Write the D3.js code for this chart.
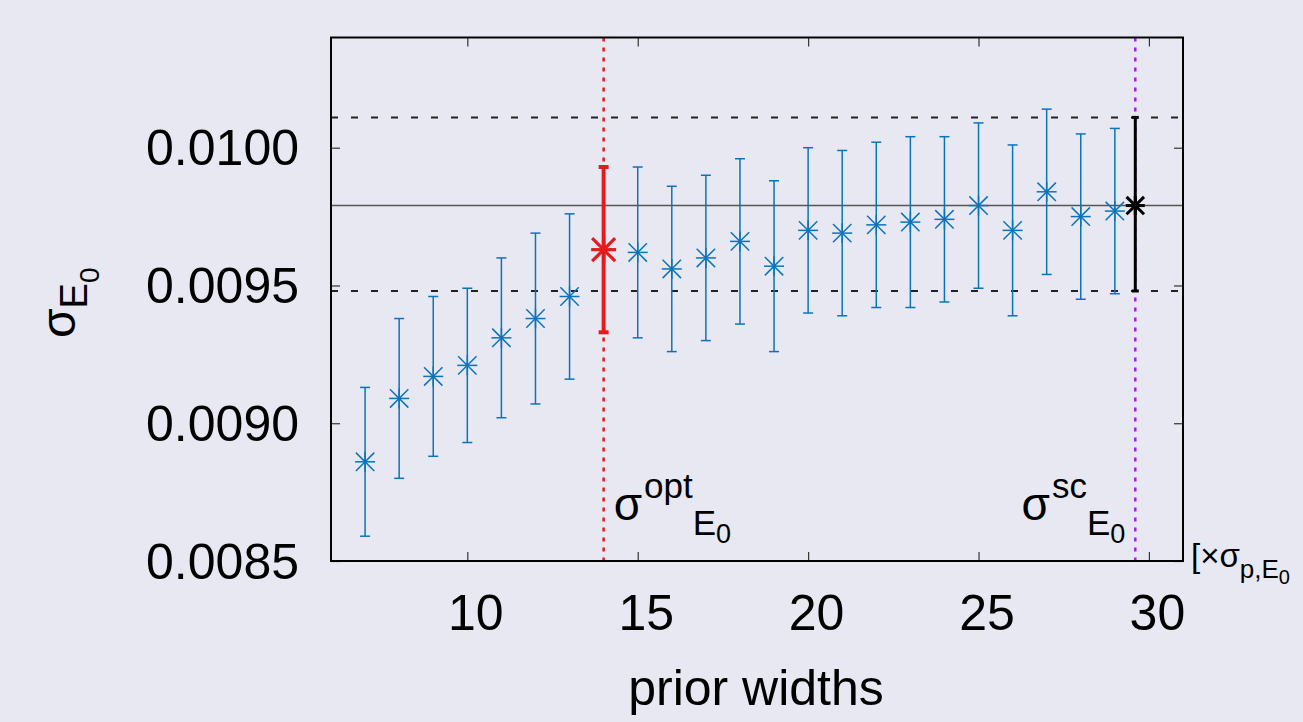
<!DOCTYPE html>
<html>
<head>
<meta charset="utf-8">
<script src="https://cdn.jsdelivr.net/npm/d3@7/dist/d3.min.js"></script>
<style>
  html, body { margin: 0; padding: 0; background: #e8e8f2; }
  svg { display: block; font-family: "Liberation Sans", Arial, Helvetica, sans-serif; }
</style>
</head>
<body>
<svg id="chart" width="1303" height="722"></svg>
<script>
// ---- data ----
const priorWidths = [7, 8, 9, 10, 11, 12, 13, 15, 16, 17, 18, 19, 20, 21, 22, 23, 24, 25, 26, 27, 28, 29];
const sigmaE0 = [0.00886, 0.00909, 0.00917, 0.00921, 0.00931, 0.00938, 0.00946,
                 0.00962, 0.00956, 0.00960, 0.00966, 0.00957, 0.00970, 0.00969, 0.00972,
                 0.00973, 0.00974, 0.00979, 0.00970, 0.00984, 0.00975, 0.00977];
const sigmaErr = [0.00027, 0.00029, 0.00029, 0.00028, 0.00029, 0.00031, 0.00030,
                  0.00031, 0.00030, 0.00030, 0.00030, 0.00031, 0.00030, 0.00030, 0.00030,
                  0.00031, 0.00030, 0.00030, 0.00031, 0.00030, 0.00030, 0.00030];
const optWidth = 14, optSigma = 0.00963, optErr = 0.00030;
const scWidth = 29.6, scSigma = 0.00979, scLow = 0.00948, scHigh = 0.01011;
const refCenter = 0.00979, refLow = 0.00948, refHigh = 0.01011;
const xTicks = [10, 15, 20, 25, 30];
const yTicks = [0.0085, 0.0090, 0.0095, 0.0100];
const yTickLabels = ["0.0085", "0.0090", "0.0095", "0.0100"];

// ---- layout ----
const L = 331, R = 1183, T = 37.5, B = 561;
const x = d3.scaleLinear().domain([6, 31]).range([L, R]);
const y = d3.scaleLinear().domain([0.0085, 0.0104]).range([B, T]);

const svg = d3.select("#chart");
svg.append("rect").attr("width", 1303).attr("height", 722).attr("fill", "#e8e8f2");

const blue = "#0a74bb", red = "#e41a1c", purple = "#a020f0";

// axes (ticks)
const tickLen = 9;
const gx = svg.append("g").attr("transform", `translate(0,${B})`)
  .call(d3.axisBottom(x).tickValues(xTicks).tickSize(-tickLen).tickFormat(d3.format("d")));
const gxTop = svg.append("g").attr("transform", `translate(0,${T})`)
  .call(d3.axisTop(x).tickValues(xTicks).tickSize(-tickLen).tickFormat(""));
const gy = svg.append("g").attr("transform", `translate(${L},0)`)
  .call(d3.axisLeft(y).tickValues(yTicks).tickSize(-tickLen).tickFormat((d, i) => yTickLabels[i]));
const gyR = svg.append("g").attr("transform", `translate(${R},0)`)
  .call(d3.axisRight(y).tickValues(yTicks).tickSize(-tickLen).tickFormat(""));
[gx, gxTop, gy, gyR].forEach(g => {
  g.select(".domain").remove();
  g.selectAll(".tick line").attr("stroke", "#333").attr("stroke-width", 1.2);
  g.selectAll(".tick text").attr("font-size", 50).attr("fill", "#000")
    .attr("font-family", "'Liberation Sans', Arial, sans-serif");
});
gx.selectAll(".tick text").attr("dx", 8).attr("dy", 0).attr("y", 630 - B);
gy.selectAll(".tick text").attr("dy", 0).attr("y", 17).attr("x", 299 - L);

// reference lines
svg.append("line").attr("x1", L).attr("x2", R).attr("y1", y(refCenter)).attr("y2", y(refCenter))
  .attr("stroke", "#555").attr("stroke-width", 1.5);
[refLow, refHigh].forEach(v => {
  svg.append("line").attr("x1", L).attr("x2", R).attr("y1", y(v)).attr("y2", y(v))
    .attr("stroke", "#222").attr("stroke-width", 2).attr("stroke-dasharray", "7,13");
});

// vertical dotted lines
svg.append("line").attr("x1", x(optWidth)).attr("x2", x(optWidth)).attr("y1", T).attr("y2", B)
  .attr("stroke", red).attr("stroke-width", 2.5).attr("stroke-dasharray", "4,6");
svg.append("line").attr("x1", x(scWidth)).attr("x2", x(scWidth)).attr("y1", T).attr("y2", B)
  .attr("stroke", purple).attr("stroke-width", 2.5).attr("stroke-dasharray", "4,6");

// helpers
function errorBar(g, cx, lo, hi, color, w, capW) {
  g.append("line").attr("x1", cx).attr("x2", cx).attr("y1", y(lo)).attr("y2", y(hi))
    .attr("stroke", color).attr("stroke-width", w);
  [lo, hi].forEach(v => g.append("line").attr("x1", cx - capW / 2).attr("x2", cx + capW / 2)
    .attr("y1", y(v)).attr("y2", y(v)).attr("stroke", color).attr("stroke-width", w));
}
function asterisk(g, cx, cy, size, color, w) {
  const h = size / 2, d = h * 0.92;
  const segs = [[-h, 0, h, 0], [0, -h, 0, h], [-d, -d, d, d], [-d, d, d, -d]];
  segs.forEach(s => g.append("line").attr("x1", cx + s[0]).attr("y1", cy + s[1])
    .attr("x2", cx + s[2]).attr("y2", cy + s[3]).attr("stroke", color).attr("stroke-width", w));
}

// blue series
const gBlue = svg.append("g");
priorWidths.forEach((w, i) => {
  errorBar(gBlue, x(w), sigmaE0[i] - sigmaErr[i], sigmaE0[i] + sigmaErr[i], blue, 1.5, 10);
  asterisk(gBlue, x(w), y(sigmaE0[i]), 20, blue, 1.5);
});

// optimum (red)
const gRed = svg.append("g");
errorBar(gRed, x(optWidth), optSigma - optErr, optSigma + optErr, red, 4, 10);
asterisk(gRed, x(optWidth), y(optSigma), 25, red, 3.2);

// self-consistent (black)
const gBlack = svg.append("g");
errorBar(gBlack, x(scWidth), scLow, scHigh, "#000", 3, 7);
asterisk(gBlack, x(scWidth), y(scSigma), 19, "#000", 3);

// frame
svg.append("rect").attr("x", L).attr("y", T).attr("width", R - L).attr("height", B - T)
  .attr("fill", "none").attr("stroke", "#000").attr("stroke-width", 2);

// annotations
function sigmaLabel(xpos, sup, anchor) {
  const t = svg.append("text").attr("x", xpos).attr("y", 520).attr("text-anchor", anchor)
    .attr("fill", "#000");
  t.append("tspan").attr("font-size", 46).text("σ");
  t.append("tspan").attr("font-size", 35).attr("dy", -22).attr("dx", 2).text(sup);
  t.append("tspan").attr("font-size", 35).attr("dy", 37).attr("dx", 0).text("E");
  t.append("tspan").attr("font-size", 27).attr("dy", 8).text("0");
}
sigmaLabel(x(optWidth) + 10, "opt", "start");
sigmaLabel(x(scWidth) - 10, "sc", "end");

// axis titles
svg.append("text").attr("x", 756).attr("y", 705).attr("text-anchor", "middle")
  .attr("font-size", 50).attr("fill", "#000").text("prior widths");

const yl = svg.append("text").attr("transform", "translate(75,338) rotate(-90)")
  .attr("text-anchor", "start").attr("fill", "#000");
yl.append("tspan").attr("font-size", 48).text("σ");
yl.append("tspan").attr("font-size", 38).attr("dy", 12).text("E");
yl.append("tspan").attr("font-size", 28).attr("dy", 12).text("0");

const unit = svg.append("text").attr("x", 1191).attr("y", 567).attr("fill", "#000");
unit.append("tspan").attr("font-size", 33).text("[×σ");
unit.append("tspan").attr("font-size", 26).attr("dy", 11).text("p,E");
unit.append("tspan").attr("font-size", 20).attr("dy", 6).text("0");
</script>
</body>
</html>
